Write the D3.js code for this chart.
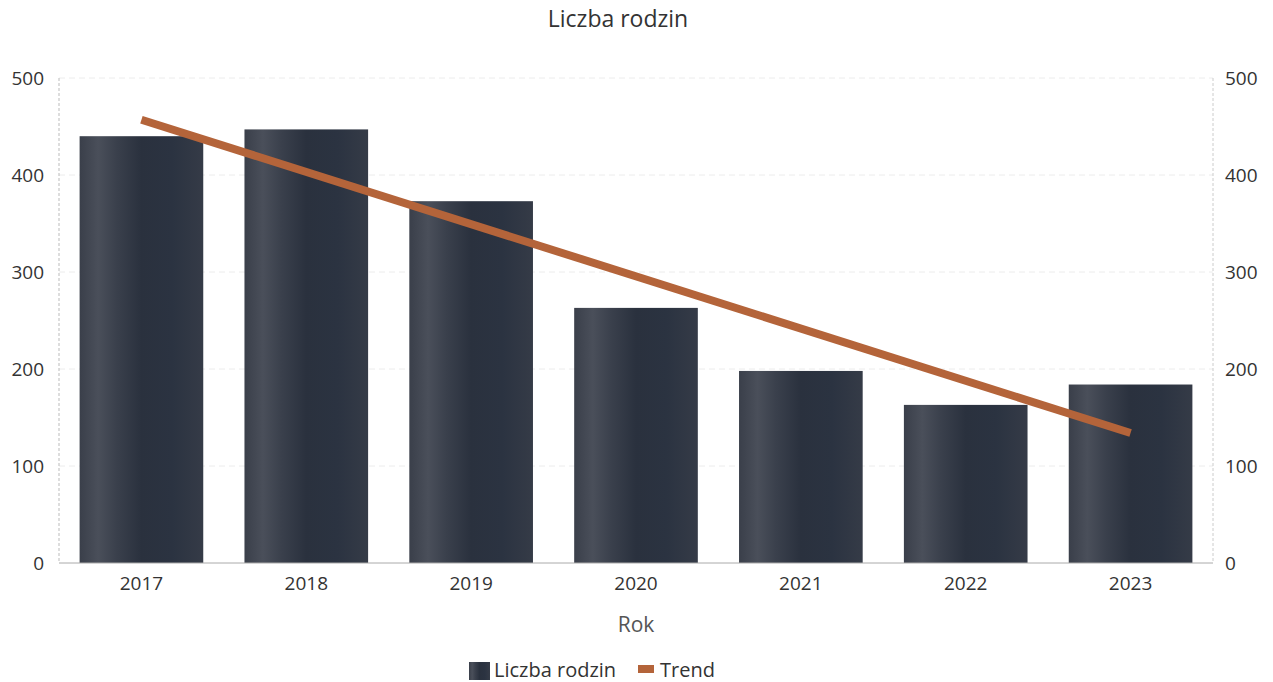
<!DOCTYPE html>
<html><head><meta charset="utf-8">
<script src="https://cdn.jsdelivr.net/npm/d3@7"></script>
<style>body{margin:0;background:#fff}svg{display:block}text{font-family:"Open Sans","Noto Sans",sans-serif;fill:#333}</style>
</head><body><svg id="c" width="1273" height="682"></svg>
<script>
const years = ["2017","2018","2019","2020","2021","2022","2023"];
const families = [440, 447, 373, 263, 198, 163, 184];
const trend = [457, 403, 349, 295, 242, 188, 134];
const yTicks = [0, 100, 200, 300, 400, 500];
const title = "Liczba rodzin";
const xTitle = "Rok";
const legendLabels = ["Liczba rodzin", "Trend"];

const svg = d3.select("#c");
const m = {l:59, r:1213, t:78, b:563};
const x = d3.scaleBand().domain(years).range([m.l, m.r]).paddingInner(0.25).paddingOuter(0.125);
const y = d3.scaleLinear().domain([0,500]).range([m.b, m.t]);

const defs = svg.append("defs");
const g = defs.append("linearGradient").attr("id","bg").attr("x1","0").attr("x2","1").attr("y1","0").attr("y2","0");
[[0,"#3a3f4a"],[0.15,"#4a4f5a"],[0.3,"#3a404c"],[0.5,"#2a313e"],[0.75,"#2b3341"],[1,"#353b47"]].forEach(s=>g.append("stop").attr("offset",s[0]).attr("stop-color",s[1]));

// grid
svg.append("g").selectAll("line").data(yTicks.filter(d=>d>0)).join("line")
  .attr("x1",m.l).attr("x2",m.r).attr("y1",d=>y(d)).attr("y2",d=>y(d))
  .attr("stroke","#ececec").attr("stroke-dasharray","6,4").attr("stroke-width",1);

// axes lines
svg.append("line").attr("x1",m.l).attr("x2",m.l).attr("y1",m.t).attr("y2",m.b).attr("stroke","#bbb").attr("stroke-dasharray","3,2");
svg.append("line").attr("x1",m.r).attr("x2",m.r).attr("y1",m.t).attr("y2",m.b).attr("stroke","#ccc").attr("stroke-dasharray","3,2");

// bars
svg.append("g").selectAll("rect").data(families).join("rect")
  .attr("x",(d,i)=>x(years[i])).attr("width",x.bandwidth())
  .attr("y",d=>y(d)).attr("height",d=>y(0)-y(d)).attr("fill","url(#bg)");

svg.append("line").attr("x1",m.l).attr("x2",m.r).attr("y1",m.b).attr("y2",m.b).attr("stroke","#aaa");

// axes
const la = svg.append("g").attr("transform",`translate(${m.l},0)`)
  .call(d3.axisLeft(y).tickValues(yTicks).tickSize(0).tickPadding(15));
la.select(".domain").remove();
la.selectAll("text").style("font-size","19px").style("fill","#333");
const ra = svg.append("g").attr("transform",`translate(${m.r},0)`)
  .call(d3.axisRight(y).tickValues(yTicks).tickSize(0).tickPadding(12));
ra.select(".domain").remove();
ra.selectAll("text").style("font-size","19px").style("fill","#333");
const xa = svg.append("g").attr("transform",`translate(0,${m.b})`)
  .call(d3.axisBottom(x).tickSize(0).tickPadding(14));
xa.select(".domain").remove();
xa.selectAll("text").style("font-size","19px").style("fill","#333");

// trend line (fitted values at first and last year)
const ends = [0, years.length-1];
svg.append("path").datum(ends)
  .attr("d", d3.line().x(i=>x(years[i])+x.bandwidth()/2).y(i=>y(trend[i])))
  .attr("fill","none").attr("stroke","#b4643a").attr("stroke-width",8);

// titles
svg.append("text").attr("x",618).attr("y",27).attr("text-anchor","middle").style("font-size","23px").text(title);
svg.append("text").attr("x",636).attr("y",632).attr("text-anchor","middle").style("font-size","21px").style("fill","#555").text(xTitle);

// legend
const lg = svg.append("g");
lg.append("rect").attr("x",469).attr("y",662).attr("width",21).attr("height",18).attr("fill","url(#bg)");
lg.append("text").attr("x",494).attr("y",677).style("font-size",
"20px").text(legendLabels[0]);
lg.append("rect").attr("x",638).attr("y",665).attr("width",16).attr("height",8).attr("fill","#b4643a");
lg.append("text").attr("x",660).attr("y",677).style("font-size","20px").text(legendLabels[1]);
</script></body></html>
